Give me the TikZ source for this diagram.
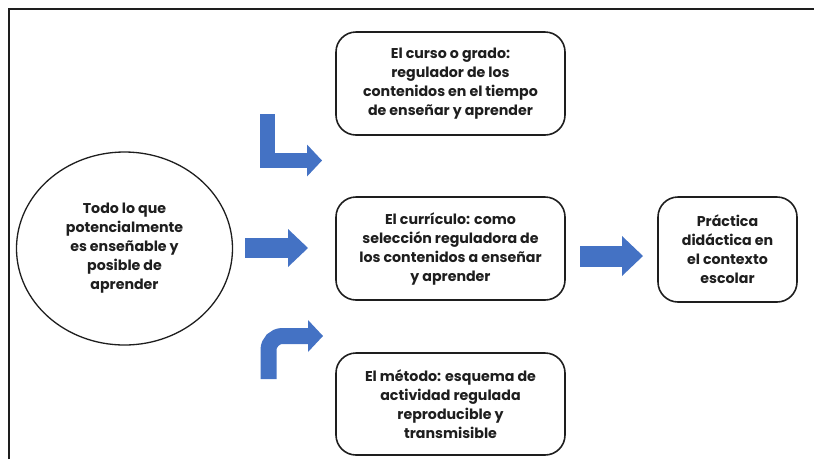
\documentclass[tikz,border=0pt]{standalone}
\usepackage{fontspec}
\setmainfont{Poppins}
\usepackage{tikz}
\usetikzlibrary{
	arrows.meta,
	shapes.geometric,
	positioning
}
\definecolor{arrowblue}{RGB}{68,114,196}
\definecolor{textgray}{RGB}{30,30,30}
\tikzset{every path/.append style={line width=0.5pt}}
\tikzset{
	box/.style={draw=textgray,rounded corners=20pt,line width=1.6pt,align=center,
		font=\fontsize{14.2}{19}\selectfont\bfseries,text=textgray},
	bubble/.style={draw=textgray,ellipse,line width=1.3pt,align=center,
		font=\fontsize{14.2}{19}\selectfont\bfseries,text=textgray},
	blockarrow/.style={draw=arrowblue,line width=#1}
}

\begin{document}
\begin{tikzpicture}[x=1pt,y=-1pt]
	\useasboundingbox (0,0) rectangle (814,459);
	\draw[line width=1.8pt,textgray] (9,459) |- (814,9);

	\node (todo) at (124.5,248.5) [bubble,minimum width=216pt,minimum height=193pt]
		{Todo lo que\\potencialmente\\es enseñable y\\posible de\\aprender};
	\node (curso) at (450.5,83.5) [box,minimum width=229pt,minimum height=103pt]
		{El curso o grado:\\regulador de los\\contenidos en el tiempo\\de enseñar y aprender};
	\node (curriculo) at (450.5,248.5) [box,minimum width=229pt,minimum height=103pt]
		{El currículo: como\\selección reguladora de\\los contenidos a enseñar\\y aprender};
	\node (metodo) at (450.5,404) [box,minimum width=229pt,minimum height=102pt]
		{El método: esquema de\\actividad regulada\\reproducible y\\transmisible};
	\node (practica) at (727.5,249.5) [box,minimum width=139pt,minimum height=105pt]
		{Práctica\\didáctica en\\el contexto\\escolar};

	\coordinate (a1s) at (245,248);
	\coordinate (a1e) at (308,248);
	\coordinate (a2s) at (580,256);
	\coordinate (a2e) at (643,256);
	\coordinate (a3s) at (267.5,114);
	\coordinate (a3e) at (322,160.5);
	\coordinate (a4s) at (268.5,379);
	\coordinate (a4e) at (323,336);

	\draw[blockarrow=20pt,-{Triangle[length=20pt,width=38pt,line width=0pt,fill=arrowblue]}] (a1s) -- (a1e);
	\draw[blockarrow=21pt,-{Triangle[length=21pt,width=40pt,line width=0pt,fill=arrowblue]}] (a2s) -- (a2e);
	\draw[blockarrow=15pt,-{Triangle[length=15pt,width=32pt,line width=0pt,fill=arrowblue]}] (a3s) |- (a3e);
	\draw[blockarrow=16pt,rounded corners=14pt,-{Triangle[length=15pt,width=32pt,line width=0pt,fill=arrowblue]}] (a4s) |- (a4e);
\end{tikzpicture}
\end{document}
